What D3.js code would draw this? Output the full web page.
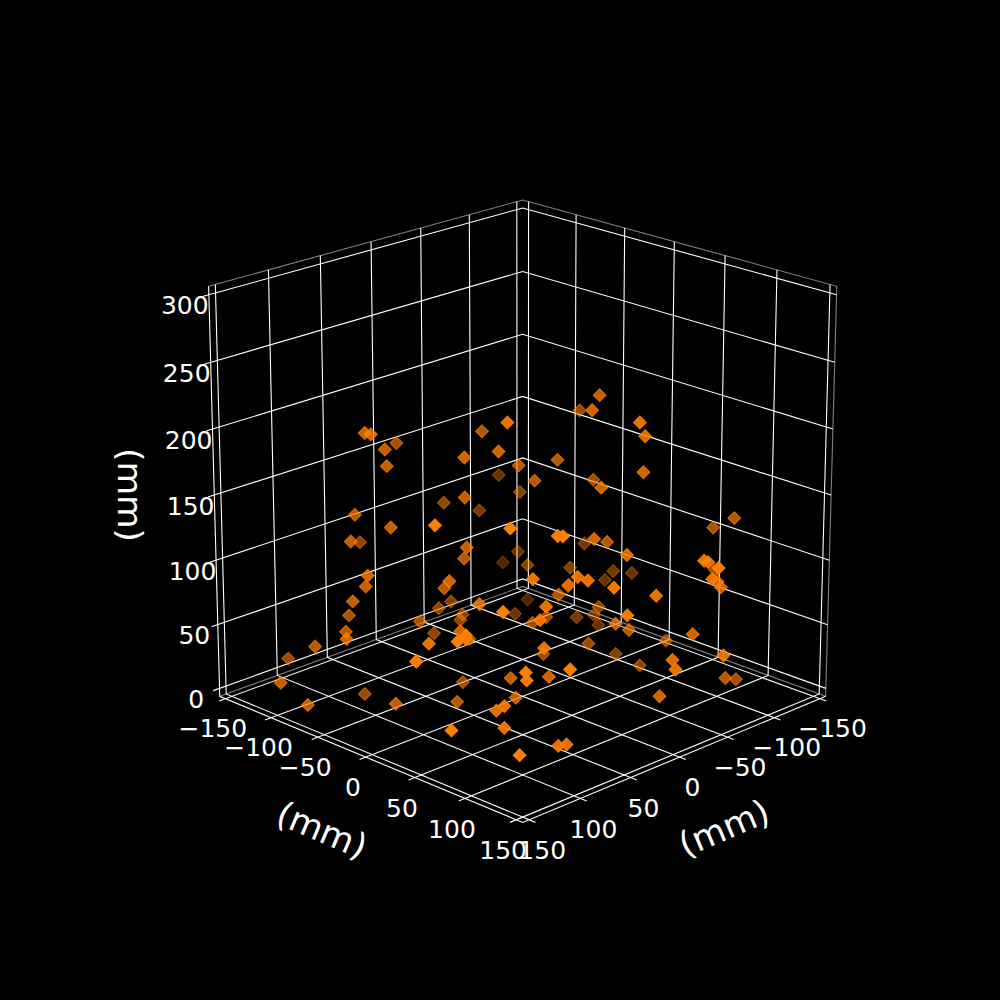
<!DOCTYPE html>
<html>
<head>
<meta charset="utf-8">
<script src="https://d3js.org/d3.v7.min.js"></script>
<style>
  html, body { margin: 0; background: #000; }
  text { font-family: "DejaVu Sans", sans-serif; fill: #fff; }
</style>
</head>
<body>
<div id="chart"></div>
<script>
//---- Datos (mm) -------------------
const xValues = [105,102,55,86,88,100, 96,119,67,128,119,128, 109,125,149,143,136,178, 168,103,124,130,74,57,
  22,42,60,-11,9,-53, 4,-36,54,17,-24,134, 98,76,74,62,-49,53, -64,-27,71,88,68,-7,
  -50,-70,19,38,77,69, 115,-36,15,29,-3,74, 5,45,133,91,137,64, 142,138,77,5,51,62,
  114,103,55,92,81,63, 99,106,110,160,131,86, 82,-31,-56,-12,-8,-21, -27,-51,-3,-90,-91,-73,
  9,-22,8,-16,-18,-9, -97,-49,48,44,-83,-105, -90,-20,45,-17,-58,-46, 13,-63,-44,-65,-56,43,
  -78,0,-18,-24,-60,-20, -57,-10,-55,3,16,-58, -76,3,118]
const yValues = [-52,-49,-73,-52,-48,-69, -36,-53,-100,-26,-38,-42, -67,-53,-26,-66,-103,-64, -47,-58,-3,25,-30,42,
  -19,18,2,24,5,-78, 16,-39,-4,-64,-69,49, 86,110,113,6,-54,-6, -85,-22,81,15,-11,39,
  -13,-65,-55,-48,34,92, 96,-44,-47,-35,21,91, 15,-46,41,29,82,10, 79,83,98,26,-10,50,
  117,107,81,138,15,56, 73,88,92,91,128,121, 125,46,2,57,107,100, 93,21,75,123,102,-9,
  80,63,111,162,164,182, 99,0,102,108,11,9, -4,27,134,169,137,151, 144,-25,34,9,0,145,
  1,93,89,145,86,47, 39,187,65,151,166,146, 140,139,12]
const zValues = [210,209,185,193,182,143, 141,132,105,116,102,92, 69,65,74,55,33,38, 23,9,24,66,65,229,
  199,198,194,180,176,132, 166,133,161,132,114,175, 173,168,168,128,79,114, 58,83,127,112,94,89,
  56,32,58,60,97,109, 119,36,49,52,61,100, 57,43,85,79,104,60, 100,102,82,36,17,41,
  80,68,49,82,18,28, 34,44,30,43,27,18, 19,229,201,225,229,214, 184,154,174,141,128,91,
  140,125,136,139,138,141, 93,81,128,126,72,64, 59,83,128,127,105,108, 116,49,61,42,40,110,
  28,77,66,77,45,43, 22,77,21,67,68,34, 26,36,59]

const xTicks = [-150,-100,-50,0,50,100,150]
const yTicks = [-150,-100,-50,0,50,100,150]
const zTicks = [0,50,100,150,200,250,300]
const xLim = [-156.25,156.25]
const yLim = [-156.25,156.25]
const zLim = [-6.25,306.25]
const etiqueta = "(mm)"

//---- Proyeccion 3D (elev 20, azim 45) -------------------
const width = 1000, height = 1000
const medio = 156.25
const xBox = d3.scaleLinear().domain(xLim).range([-medio, medio])
const yBox = d3.scaleLinear().domain(yLim).range([-medio, medio])
const zBox = d3.scaleLinear().domain(zLim).range([-medio, medio])
const elev = 20 * Math.PI / 180
const focal = 4130, dist = 2959, cx = 522.7, cy = 495

function proyectar(x, y, z){
    const X = xBox(x), Y = yBox(y), Z = zBox(z)
    const r = (Y - X) / Math.SQRT2
    const b = (X + Y) / Math.SQRT2
    const t = b * Math.cos(elev) + Z * Math.sin(elev)
    const h = -b * Math.sin(elev) + Z * Math.cos(elev)
    const k = focal / (dist - t)
    return { sx: cx + r * k, sy: cy - h * k, depth: t }
}

const svg = d3.select("#chart").append("svg")
    .attr("width", width).attr("height", height)
    .style("display", "block").style("background", "#000")

const linea = d3.line().x(d => proyectar(...d).sx).y(d => proyectar(...d).sy)

function trazar(puntos, color, grosor){
    svg.append("path").attr("d", linea(puntos))
        .attr("fill", "none").attr("stroke", color).attr("stroke-width", grosor)
}

const [x0, x1] = xLim, [y0, y1] = yLim, [z0, z1] = zLim

//---- Paneles -------------------
trazar([[x1,y0,z1],[x0,y0,z1],[x0,y1,z1],[x0,y1,z0]], "#808080", 1.1)
trazar([[x1,y0,z0],[x0,y0,z0],[x0,y1,z0]], "#808080", 1.1)

//---- Rejilla y marcas -------------------
const salida = 6
xTicks.forEach(v => {
    trazar([[v,y1+salida,z0],[v,y0,z0],[v,y0,z1]], "#fff", 1.1)
})
yTicks.forEach(v => {
    trazar([[x1+salida,v,z0],[x0,v,z0],[x0,v,z1]], "#fff", 1.1)
})
zTicks.forEach(v => {
    trazar([[x1+salida,y0,v],[x0,y0,v],[x0,y1,v]], "#fff", 1.1)
})

// ejes
trazar([[x1,y0,z1],[x1,y0,z0],[x1,y1,z0],[x0,y1,z0]], "#fff", 1.1)

//---- Etiquetas -------------------
const formato = d3.format("d")
const fuenteTick = 25, dLabel = 12.5, dz = 12

function textoTick(p, txt, dy){
    svg.append("text").attr("x", p.sx).attr("y", p.sy + dy)
        .attr("text-anchor", "middle").attr("dominant-baseline", "central")
        .attr("font-size", fuenteTick).text(txt)
}
xTicks.forEach(v => textoTick(proyectar(v, y1 + dLabel, z0 - dLabel), formato(v), 9))
yTicks.forEach(v => textoTick(proyectar(x1 + dLabel, v, z0 - dLabel), formato(v), 9))
zTicks.forEach(v => textoTick(proyectar(x1 + dz, y0 - dz, v), formato(v), 11))

function tituloEje(px, py, giro){
    svg.append("text").attr("transform", `translate(${px},${py}) rotate(${giro})`)
        .attr("text-anchor", "middle").attr("dominant-baseline", "central")
        .attr("font-size", 34.5).text(etiqueta)
}
tituloEje(724, 828, -23)
tituloEje(322, 830, 23)
tituloEje(129.5, 495, 90)

//---- Puntos -------------------
const puntos = xValues.map((x, i) => ({ ...proyectar(x, yValues[i], zValues[i]) }))
    .sort((a, b) => a.depth - b.depth)

const alfa = d3.scaleLinear().domain(d3.extent(puntos, d => d.depth)).range([0.3, 1])

svg.selectAll("path.punto")
    .data(puntos)
    .enter()
    .append("path")
    .attr("class", "punto")
    .attr("d", d3.symbol().type(d3.symbolSquare).size(80))
    .attr("transform", d => `translate(${d.sx},${d.sy}) rotate(45)`)
    .attr("fill", "#ff7f00")
    .attr("stroke", "#ff7f00")
    .attr("stroke-width", 1.2)
    .attr("fill-opacity", d => alfa(d.depth))
    .attr("stroke-opacity", d => alfa(d.depth))
</script>
</body>
</html>
